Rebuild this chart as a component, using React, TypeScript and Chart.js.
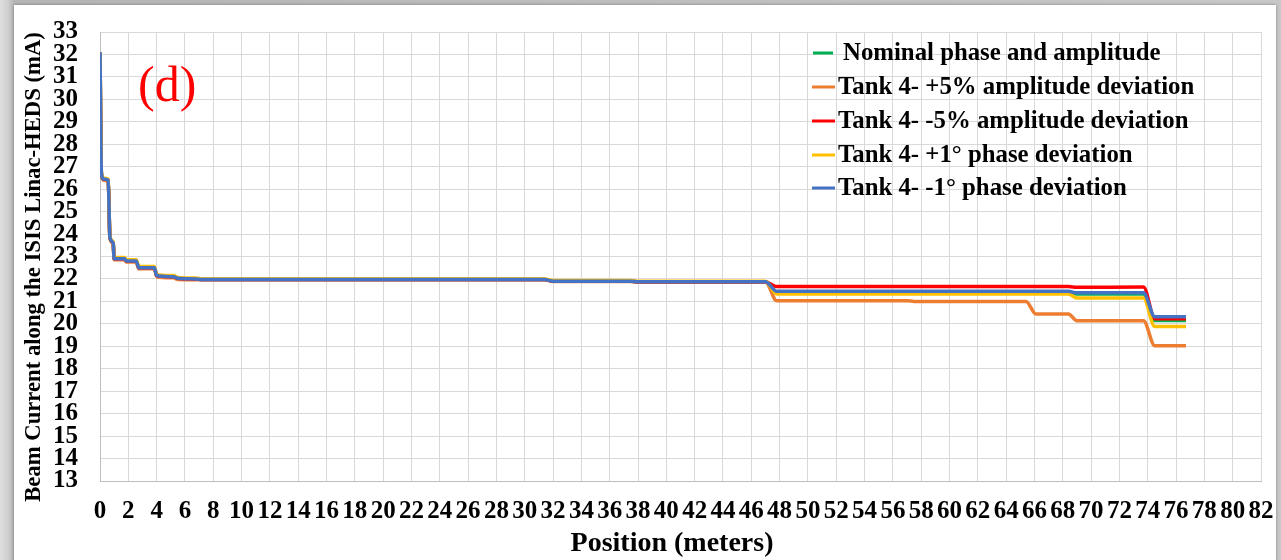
import React, { useEffect, useRef } from "react";
import { Chart, registerables } from "chart.js";

Chart.register(...registerables);

// Position along the linac (meters)
const positions = [0, 0.1, 0.25, 0.58, 0.7, 0.93, 1.0, 1.74, 1.85, 2.56, 2.74, 3.84, 4.0, 5.2, 5.5, 6.8, 7.2, 31.4, 32.0, 37.5, 38.0, 47.0, 47.8, 57.0, 57.5, 65.4, 66.1, 68.4, 69.0, 73.7, 74.5, 76.7];

// Beam current (mA) for each case
const nominal = [32.1, 26.7, 26.45, 26.4, 23.85, 23.6, 22.9, 22.9, 22.8, 22.8, 22.5, 22.5, 22.15, 22.1, 22.03, 22.0, 21.97, 21.97, 21.9, 21.9, 21.87, 21.88, 21.42, 21.42, 21.42, 21.42, 21.42, 21.42, 21.33, 21.33, 20.15, 20.15];
const ampPlus5 = [32.1, 26.65, 26.4, 26.35, 23.8, 23.55, 22.85, 22.85, 22.75, 22.75, 22.45, 22.45, 22.1, 22.05, 21.97, 21.96, 21.96, 21.96, 21.89, 21.89, 21.86, 21.86, 21.03, 21.03, 21.0, 21.0, 20.44, 20.44, 20.14, 20.14, 19.03, 19.03];
const ampMinus5 = [32.1, 26.7, 26.45, 26.4, 23.85, 23.6, 22.9, 22.9, 22.8, 22.8, 22.5, 22.5, 22.15, 22.1, 22.03, 22.0, 21.97, 21.97, 21.9, 21.9, 21.87, 21.88, 21.66, 21.66, 21.66, 21.66, 21.66, 21.66, 21.63, 21.64, 20.23, 20.23];
const phasePlus1 = [32.1, 26.75, 26.5, 26.45, 23.9, 23.65, 22.95, 22.95, 22.85, 22.85, 22.55, 22.55, 22.2, 22.15, 22.07, 22.04, 22.0, 22.0, 21.93, 21.93, 21.9, 21.9, 21.33, 21.33, 21.33, 21.33, 21.33, 21.33, 21.15, 21.15, 19.88, 19.88];
const phaseMinus1 = [32.1, 26.7, 26.45, 26.4, 23.85, 23.6, 22.9, 22.9, 22.8, 22.8, 22.5, 22.5, 22.15, 22.1, 22.03, 22.0, 21.97, 21.97, 21.9, 21.9, 21.87, 21.88, 21.45, 21.45, 21.45, 21.45, 21.45, 21.45, 21.38, 21.38, 20.32, 20.32];

const seriesLabels = [
  "Nominal phase and amplitude",
  "Tank 4- +5% amplitude deviation",
  "Tank 4- -5% amplitude deviation",
  "Tank 4- +1\u00b0 phase deviation",
  "Tank 4- -1\u00b0 phase deviation",
];
const seriesValues = [nominal, ampPlus5, ampMinus5, phasePlus1, phaseMinus1];
const seriesColors = ["#00B050", "#ED7D31", "#FF0000", "#FFC000", "#4472C4"];
const seriesOrder = [4, 3, 2, 1, 0];

const xTitle = "Position (meters)";
const yTitle = "Beam Current along the ISIS Linac-HEDS (mA)";
const panelLabel = "(d)";

const SERIF = '"Liberation Serif", "Times New Roman", serif';

const overlayPlugin = {
  id: "overlay",
  afterDraw(chart: any) {
    const ctx = chart.ctx;
    ctx.save();
    // Y axis title
    ctx.save();
    ctx.translate(34, 267);
    ctx.rotate(-Math.PI / 2);
    ctx.font = `bold 22.7px ${SERIF}`;
    ctx.fillStyle = "#000";
    ctx.textAlign = "center";
    ctx.textBaseline = "middle";
    ctx.fillText(yTitle, 0, 0);
    ctx.restore();

    // X axis title
    ctx.font = `bold 28px ${SERIF}`;
    ctx.fillStyle = "#000";
    ctx.textAlign = "center";
    ctx.textBaseline = "middle";
    ctx.fillText(xTitle, 672, 544);

    // Panel label
    ctx.font = `50px ${SERIF}`;
    ctx.fillStyle = "#FF0000";
    ctx.textAlign = "left";
    ctx.textBaseline = "alphabetic";
    ctx.fillText(panelLabel, 138, 101);

    // Legend
    const rows = [53, 87, 121, 155, 188];
    ctx.font = `bold 24.8px ${SERIF}`;
    ctx.textBaseline = "middle";
    seriesLabels.forEach((lab, i) => {
      const y = rows[i];
      const x0 = i === 0 ? 813 : 812;
      const x1 = i === 0 ? 833 : 835;
      const tx = i === 0 ? 843 : 838;
      ctx.strokeStyle = seriesColors[i];
      ctx.lineWidth = 3;
      ctx.beginPath();
      ctx.moveTo(x0, y);
      ctx.lineTo(x1, y);
      ctx.stroke();
      ctx.fillStyle = "#000";
      ctx.fillText(lab, tx, y + 1);
    });
    ctx.restore();
  },
};

export default function App() {
  const ref = useRef<HTMLCanvasElement>(null);

  useEffect(() => {
    if (!ref.current) return;
    const tickFont = { family: SERIF, size: 25, weight: "bold" as const };
    const chart = new Chart(ref.current, {
      type: "line",
      data: {
        datasets: seriesLabels.map((label, i) => ({
          label,
          data: positions.map((p, j) => ({ x: p, y: seriesValues[i][j] })),
          borderColor: seriesColors[i],
          backgroundColor: seriesColors[i],
          borderWidth: 3.5,
          pointRadius: 0,
          cubicInterpolationMode: "monotone" as const,
          fill: false,
          order: seriesOrder[i],
        })),
      },
      options: {
        animation: false,
        responsive: false,
        maintainAspectRatio: false,
        layout: { padding: { left: 0, right: 20, top: 32, bottom: 0 } },
        plugins: {
          legend: { display: false },
          tooltip: { enabled: false },
        },
        scales: {
          x: {
            type: "linear",
            min: 0,
            max: 82,
            ticks: {
              stepSize: 2,
              autoSkip: false,
              maxRotation: 0,
              minRotation: 0,
              font: tickFont,
              color: "#000",
              padding: 16,
            },
            grid: { color: "#d9d9d9", lineWidth: 1, drawTicks: false },
            border: { color: "#bfbfbf", width: 1 },
            afterFit: (s: any) => {
              s.height = 79;
              s.paddingLeft = 0;
              s.paddingRight = 0;
            },
          },
          y: {
            type: "linear",
            min: 13,
            max: 33,
            ticks: {
              stepSize: 1,
              autoSkip: false,
              font: tickFont,
              color: "#000",
              padding: 22,
            },
            grid: { color: "#d9d9d9", lineWidth: 1, drawTicks: false },
            border: { color: "#bfbfbf", width: 1 },
            afterFit: (s: any) => {
              s.width = 100;
              s.paddingTop = 0;
              s.paddingBottom = 0;
            },
          },
        },
      },
      plugins: [overlayPlugin],
    });
    return () => chart.destroy();
  }, []);

  return (
    <div
      style={{
        position: "fixed",
        left: 0,
        top: 0,
        width: 1281,
        height: 560,
        overflow: "hidden",
        background: "linear-gradient(to right, #dedede 0px, #cfcfcf 8px, #b5b5b5 14px, #c8c8c8 100%)",
      }}
    >
      <div
        style={{
          position: "absolute",
          left: 14,
          top: 5,
          width: 1262,
          height: 560,
          background: "#fff",
          boxShadow: "0 0 3px rgba(0,0,0,0.35)",
        }}
      />
      <canvas
        ref={ref}
        width={1281}
        height={560}
        style={{ position: "absolute", left: 0, top: 0, display: "block" }}
      />
    </div>
  );
}
